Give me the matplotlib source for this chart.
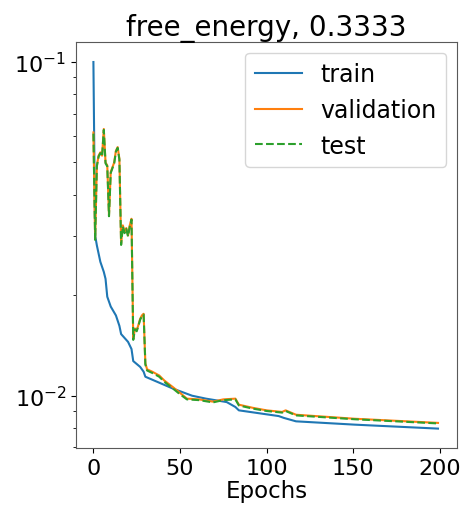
import matplotlib
matplotlib.use("Agg")
import matplotlib.pyplot as plt

plt.rcParams["font.size"] = 16.5

train_epochs = [0, 1, 2, 4, 6, 7, 8, 10, 13, 15, 16, 20, 22, 23, 27, 29, 30,
                46, 57, 65, 77, 82, 84, 107, 110, 117, 151, 199]
train_loss = [0.1, 0.0302, 0.0282, 0.0252, 0.0235, 0.0224, 0.0198, 0.0185,
              0.0174, 0.0162, 0.0153, 0.0145, 0.0138, 0.0127, 0.0122, 0.0118,
              0.0114, 0.0105, 0.0100, 0.0098, 0.00957, 0.00925, 0.00904,
              0.00869, 0.00858, 0.00838, 0.00819, 0.00797]

val_epochs = [0, 1, 2, 3, 4, 5, 6, 7, 8, 9, 10, 12, 13, 14, 15, 16, 17, 18,
              19, 20, 21, 22, 23, 24, 25, 26, 27, 28, 29, 30, 31, 34, 38, 41,
              46, 50, 54, 61, 69, 75, 82, 84, 92, 100, 109, 111, 117, 151, 199]
val_loss = [0.0615, 0.0295, 0.049, 0.0524, 0.0536, 0.0524, 0.063, 0.050,
            0.049, 0.0347, 0.0468, 0.050, 0.0542, 0.0556, 0.0513, 0.0285,
            0.0324, 0.0309, 0.0318, 0.0302, 0.0324, 0.0339, 0.0148, 0.0159,
            0.0157, 0.0163, 0.0170, 0.0174, 0.0176, 0.0125, 0.0120, 0.0118,
            0.0115, 0.0111, 0.0106, 0.0102, 0.0098, 0.00975, 0.0096, 0.00975,
            0.0098, 0.0094, 0.0092, 0.00904, 0.00894, 0.00904, 0.00877,
            0.00853, 0.00829]
test_loss = [0.0610, 0.0293, 0.0487, 0.0521, 0.0533, 0.0521, 0.0626, 0.0497,
             0.0487, 0.0345, 0.0465, 0.0497, 0.0539, 0.0553, 0.0510, 0.0283,
             0.0322, 0.0307, 0.0316, 0.0300, 0.0322, 0.0337, 0.0147, 0.0158,
             0.0156, 0.0162, 0.0169, 0.0173, 0.0175, 0.0124, 0.0119, 0.0117,
             0.0114, 0.0110, 0.0105, 0.0101, 0.00975, 0.00970, 0.00955,
             0.00970, 0.00975, 0.00935, 0.00915, 0.00900, 0.00890, 0.00900,
             0.00873, 0.00850, 0.00826]

fig, ax = plt.subplots(figsize=(4.64, 5.06), dpi=100)
fig.subplots_adjust(left=0.164, right=0.985, top=0.915, bottom=0.113)

ax.plot(train_epochs, train_loss, color="tab:blue", label="train")
ax.plot(val_epochs, val_loss, color="tab:orange", label="validation")
ax.plot(val_epochs, test_loss, color="tab:green", linestyle="--", label="test")

ax.set_yscale("log")
ax.set_ylim(0.00698, 0.1148)
ax.set_xlim(-10, 210)
ax.set_xticks([0, 50, 100, 150, 200])
ax.tick_params(labelsize=16)
ax.set_xlabel("Epochs", labelpad=1)
ax.set_title("free_energy, 0.3333", fontsize=20, pad=5)
ax.legend(loc="upper right", fontsize=17, labelspacing=0.5, borderaxespad=0.45)
for s in ax.spines.values():
    s.set_edgecolor("0.35")

fig.savefig("out.png", dpi=100)
